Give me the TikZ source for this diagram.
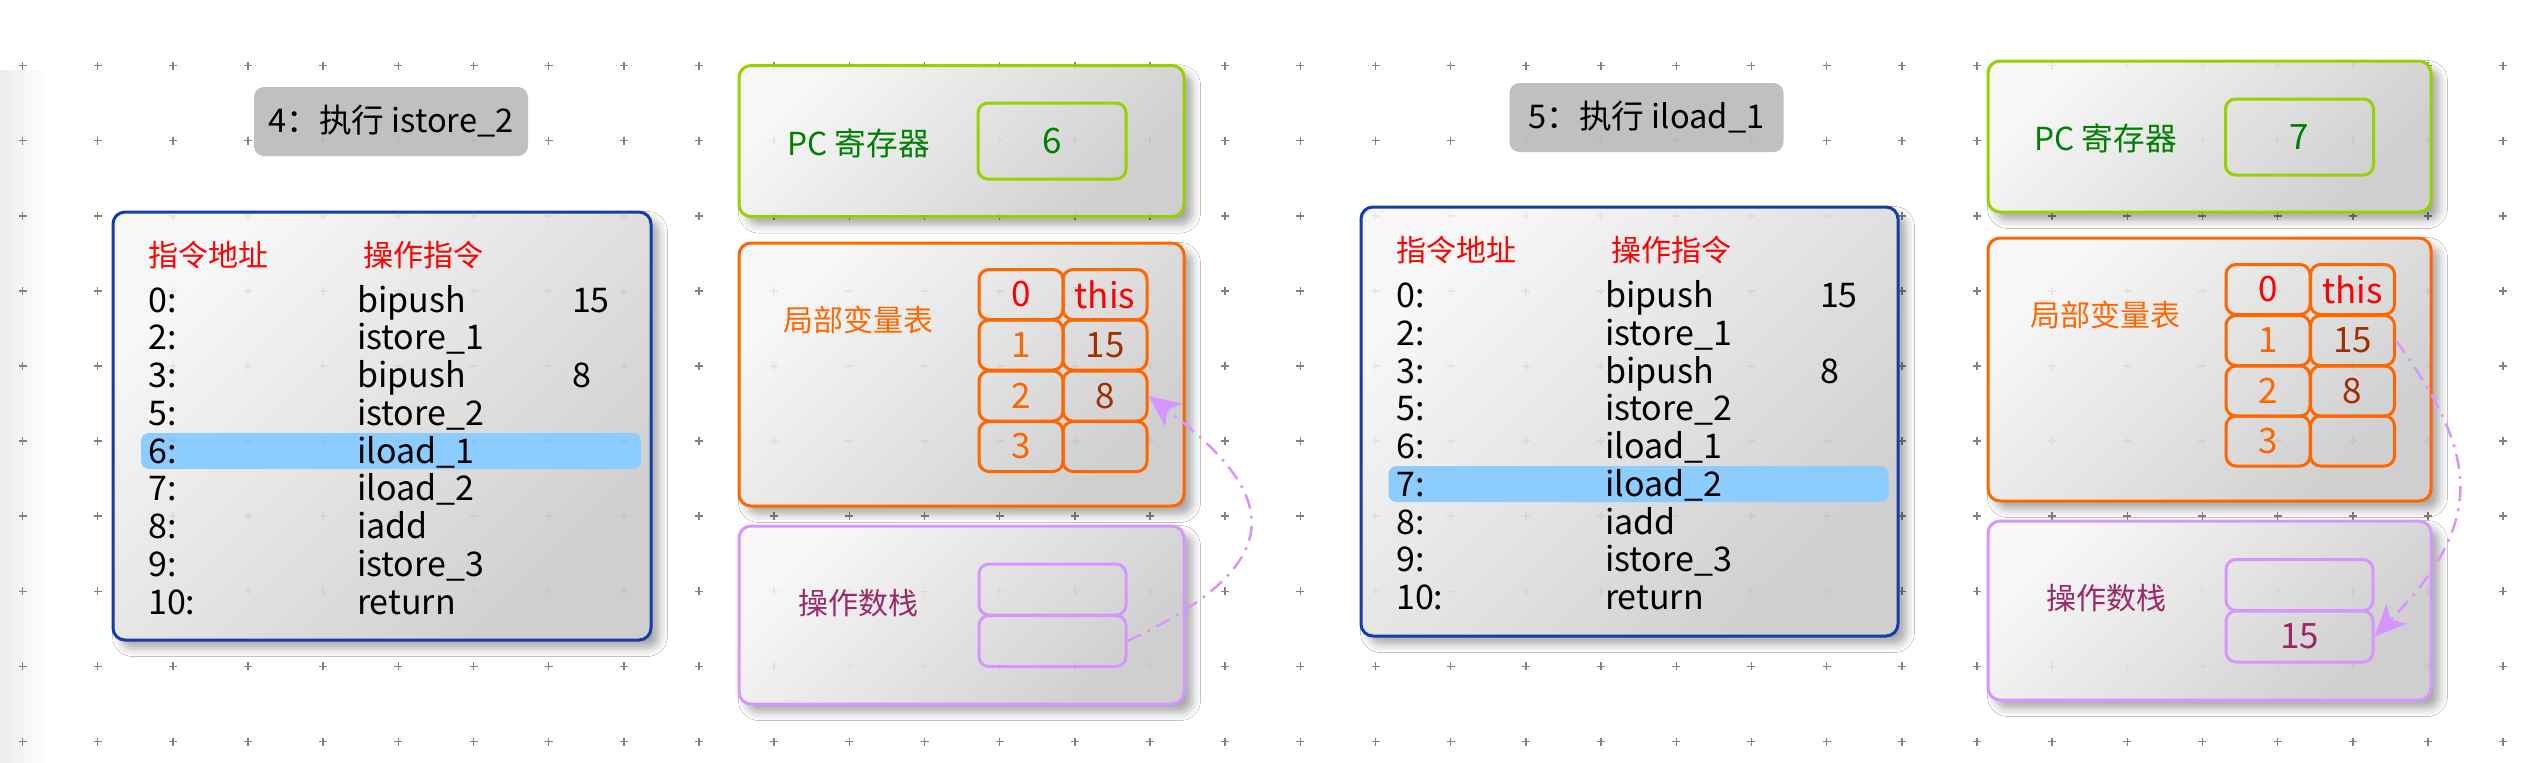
\documentclass[tikz,border=0pt]{standalone}
\usepackage{fontspec}
\setmainfont{Noto Sans CJK SC}
\usetikzlibrary{shadows.blur,arrows.meta}
\definecolor{cblue}{RGB}{20,60,170}
\definecolor{cgreen}{RGB}{150,210,0}
\definecolor{tgreen}{RGB}{0,128,0}
\definecolor{corange}{RGB}{255,102,0}
\definecolor{cred}{RGB}{255,0,0}
\definecolor{cbrown}{RGB}{160,48,0}
\definecolor{clav}{RGB}{214,150,255}
\definecolor{tplum}{RGB}{155,40,105}
\definecolor{chl}{RGB}{140,204,255}
\definecolor{ctitle}{RGB}{192,192,192}
\definecolor{cdot}{RGB}{130,130,130}
\newcommand\fsL{\fontsize{10.2}{12}\selectfont}
\newcommand\fsC{\fontsize{9}{11}\selectfont}
\newcommand\fsT{\fontsize{9.8}{12}\selectfont}
\begin{document}
\begin{tikzpicture}[x=0.3pt,y=-0.3pt,
  panel/.style={line width=0.9pt, rounded corners=3.6pt, top color=white!97!black, bottom color=black!19, shading angle=45,
    blur shadow={shadow xshift=2.4pt, shadow yshift=-2.4pt, shadow blur radius=2.6pt, shadow opacity=35}},
  titlebox/.style={fill=ctitle, rounded corners=3pt, minimum width=82.2pt, minimum height=20.7pt, inner sep=0pt, font=\fsT},
  hlrow/.style={fill=chl, rounded corners=2.4pt, minimum width=150pt, minimum height=10.8pt, inner sep=0pt},
  codetxt/.style={anchor=base west, inner sep=0pt, font=\fsL},
  headtxt/.style={anchor=base west, inner sep=0pt, font=\fsC, text=cred},
  cell/.style={draw=corange, line width=0.9pt, rounded corners=3pt, minimum width=25.2pt, minimum height=15pt, inner sep=0pt, font=\fontsize{10.5}{12}\selectfont},
  oscell/.style={draw=clav, line width=0.9pt, rounded corners=3pt, minimum width=44.1pt, minimum height=15.3pt, inner sep=0pt, font=\fontsize{10.5}{12}\selectfont, text=tplum},
  pcval/.style={draw=cgreen, line width=0.9pt, rounded corners=3pt, minimum width=44.4pt, minimum height=22.8pt, inner sep=0pt, font=\fontsize{10.5}{12}\selectfont, text=tgreen},
  lbl/.style={inner sep=0pt, font=\fsC},
  arr/.style={draw=clav, line width=0.75pt, dash pattern=on 4.5pt off 2.2pt on 0.8pt off 2.2pt, -{Stealth[length=9.5pt, width=8.5pt, inset=2.5pt, fill=clav]}},
  dotmark/.style={draw=cdot, line width=0.45pt}]
\useasboundingbox (0,0) rectangle (2526,762);
\fill[white] (0,0) rectangle (2526,762);
\shade[left color=black!7, right color=white] (0,70) rectangle (50,762);
% grid
\foreach \k in {0,...,33}{\foreach \j in {0,...,9}{
  \draw[dotmark] ({22.5+75.17*\k-4},{65.6+75.1*\j}) -- ++(8,0) ({22.5+75.17*\k},{65.6+75.1*\j-4}) -- ++(0,8);}}

% ===== left panel =====
\node[titlebox] (tL) at (391,121.5) {4：执行 istore\_2};
\node[panel, draw=cblue, minimum width=161.4pt, minimum height=128.4pt] (codeL) at (382,426) {};
\node[hlrow] (hlL) at (391,451) {};
\node[headtxt] (h1L) at (147.5,266) {指令地址};
\node[headtxt] (h2L) at (362.5,266) {操作指令};
\foreach \i/\a/\b/\c in {0/0:/bipush/15, 1/2:/istore\_1/{}, 2/3:/bipush/8, 3/5:/istore\_2/{}, 4/6:/iload\_1/{}, 5/7:/iload\_2/{}, 6/8:/iadd/{}, 7/9:/istore\_3/{}, 8/10:/return/{}}{
  \node[codetxt] (aL\i) at (147.5,{312.2+37.75*\i}) {\a};
  \node[codetxt] (bL\i) at (356.4,{312.2+37.75*\i}) {\b};
  \node[codetxt] (cL\i) at (571.4,{312.2+37.75*\i}) {\c};
}
\node[panel, draw=cgreen, minimum width=133.5pt, minimum height=45.3pt] (pcL) at (961.5,141) {};
\node[lbl, text=tgreen, font=\fontsize{9.5}{11}\selectfont] (pclL) at (858.5,143) {PC 寄存器};
\node[pcval] (pcvL) at (1052,141) {6};
\node[panel, draw=corange, minimum width=133.5pt, minimum height=78.9pt] (lvL) at (961.5,374.5) {};
\node[lbl, text=corange] (lvlL) at (858.5,320) {局部变量表};
\node[cell, text=cred] (lvL00) at (1021,294.5) {0};
\node[cell, text=cred] (lvL01) at (1105,294.5) {this};
\node[cell, text=corange] (lvL10) at (1021,345) {1};
\node[cell, text=cbrown] (lvL11) at (1105,345) {15};
\node[cell, text=corange] (lvL20) at (1021,396) {2};
\node[cell, text=cbrown] (lvL21) at (1105,396) {8};
\node[cell, text=corange] (lvL30) at (1021,446.5) {3};
\node[cell] (lvL31) at (1105,446.5) {};
\node[panel, draw=clav, minimum width=133.5pt, minimum height=53.4pt] (osL) at (961.5,615) {};
\node[lbl, text=tplum] (oslL) at (858.5,603) {操作数栈};
\node[oscell] (osL1) at (1052.5,589.5) {};
\node[oscell] (osL2) at (1052.5,641) {};
\draw[arr] (osL2.east) .. controls (1300,560) and (1273,490) .. (lvL21.east);

% ===== right panel =====
\node[titlebox] (tR) at (1646.5,117.5) {5：执行 iload\_1};
\node[panel, draw=cblue, minimum width=161.1pt, minimum height=128.7pt] (codeR) at (1629.5,421.5) {};
\node[hlrow] (hlR) at (1638.5,484) {};
\node[headtxt] (h1R) at (1395.5,261.3) {指令地址};
\node[headtxt] (h2R) at (1610.5,261.3) {操作指令};
\foreach \i/\a/\b/\c in {0/0:/bipush/15, 1/2:/istore\_1/{}, 2/3:/bipush/8, 3/5:/istore\_2/{}, 4/6:/iload\_1/{}, 5/7:/iload\_2/{}, 6/8:/iadd/{}, 7/9:/istore\_3/{}, 8/10:/return/{}}{
  \node[codetxt] (aR\i) at (1395.5,{307.5+37.75*\i}) {\a};
  \node[codetxt] (bR\i) at (1604.4,{307.5+37.75*\i}) {\b};
  \node[codetxt] (cR\i) at (1819.4,{307.5+37.75*\i}) {\c};
}
\node[panel, draw=cgreen, minimum width=132.9pt, minimum height=45.3pt] (pcR) at (2209.5,136.5) {};
\node[lbl, text=tgreen, font=\fontsize{9.5}{11}\selectfont] (pclR) at (2105.5,138) {PC 寄存器};
\node[pcval] (pcvR) at (2299.5,137) {7};
\node[panel, draw=corange, minimum width=132.9pt, minimum height=78.9pt] (lvR) at (2209.5,369.5) {};
\node[lbl, text=corange] (lvlR) at (2105.5,315) {局部变量表};
\node[cell, text=cred] (lvR00) at (2268,289.5) {0};
\node[cell, text=cred] (lvR01) at (2352.5,289.5) {this};
\node[cell, text=corange] (lvR10) at (2268,340.5) {1};
\node[cell, text=cbrown] (lvR11) at (2352.5,340.5) {15};
\node[cell, text=corange] (lvR20) at (2268,391) {2};
\node[cell, text=cbrown] (lvR21) at (2352.5,391) {8};
\node[cell, text=corange] (lvR30) at (2268,441) {3};
\node[cell] (lvR31) at (2352.5,441) {};
\node[panel, draw=clav, minimum width=132.9pt, minimum height=53.7pt] (osR) at (2209.5,610.5) {};
\node[lbl, text=tplum] (oslR) at (2106,598) {操作数栈};
\node[oscell] (osR1) at (2299.5,585) {};
\node[oscell] (osR2) at (2299.5,636.5) {15};
\draw[arr] (lvR11.east) .. controls (2477.5,453.4) and (2488,520) .. (osR2.east);

% faint grid showing through the panels
\begin{scope}[opacity=0.12]
\foreach \k in {0,...,33}{\foreach \j in {0,...,9}{
  \draw[dotmark] ({22.5+75.17*\k-4},{65.6+75.1*\j}) -- ++(8,0) ({22.5+75.17*\k},{65.6+75.1*\j-4}) -- ++(0,8);}}
\end{scope}
\end{tikzpicture}
\end{document}
